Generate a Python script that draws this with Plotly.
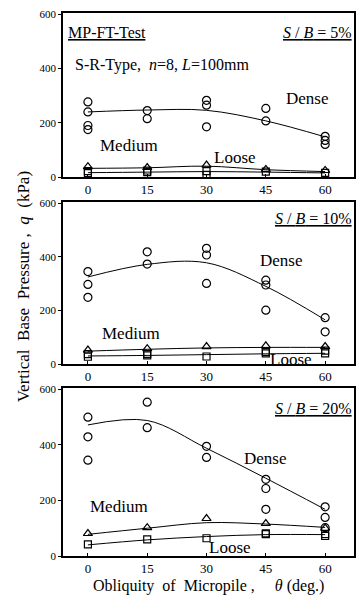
import plotly.graph_objects as go

theta = [0, 15, 30, 45, 60]
x_ticks = [0, 15, 30, 45, 60]
y_ticks = [0, 200, 400, 600]

# ---- S/B = 5% ----
dense5_x = [0, 0, 0, 0, 15, 15, 30, 30, 30, 45, 45, 60, 60, 60]
dense5_y = [277, 240, 190, 175, 245, 215, 283, 265, 185, 253, 207, 150, 135, 120]
dense5_fit = [240, 247, 246, 207, 148]
medium5_y = [38, 35, 44, 28, 24]
medium5_fit = [32, 34, 40, 27, 20]
loose5_x = [0, 0, 15, 15, 30, 30, 45, 60]
loose5_y = [22, 14, 24, 18, 22, 8, 20, 15]
loose5_fit = [16, 18, 20, 18, 15]

# ---- S/B = 10% ----
dense10_x = [0, 0, 0, 15, 15, 30, 30, 30, 45, 45, 45, 60, 60]
dense10_y = [345, 297, 249, 419, 373, 432, 407, 301, 313, 295, 201, 173, 120]
dense10_fit = [325, 372, 378, 290, 165]
medium10_y = [52, 57, 65, 68, 65]
medium10_fit = [48, 55, 60, 62, 62]
loose10_x = [0, 0, 15, 15, 30, 45, 45, 60, 60]
loose10_y = [27, 37, 32, 38, 28, 40, 45, 40, 50]
loose10_fit = [30, 32, 35, 38, 40]

# ---- S/B = 20% ----
dense20_x = [0, 0, 0, 15, 15, 30, 30, 45, 45, 45, 60, 60, 60]
dense20_y = [500, 429, 345, 554, 462, 395, 355, 276, 243, 168, 177, 139, 102]
dense20_fit = [472, 488, 388, 280, 168]
medium20_y = [81, 102, 135, 117, 100]
medium20_fit = [78, 100, 120, 115, 103]
loose20_x = [0, 15, 30, 45, 45, 60, 60]
loose20_y = [42, 60, 64, 79, 82, 72, 79]
loose20_fit = [40, 58, 70, 77, 77]

panels = [
    (dense5_x, dense5_y, dense5_fit, medium5_y, medium5_fit, loose5_x, loose5_y, loose5_fit),
    (dense10_x, dense10_y, dense10_fit, medium10_y, medium10_fit, loose10_x, loose10_y, loose10_fit),
    (dense20_x, dense20_y, dense20_fit, medium20_y, medium20_fit, loose20_x, loose20_y, loose20_fit),
]

FONT = "Liberation Serif"
W, H = 356, 599
ML, MT, MB = 63, 13, 43
plot_h = H - MT - MB
# pixel tops/bottoms of each panel
px = [(13, 177), (202, 364), (388, 556)]
domains = [((556 - b) / plot_h, (556 - t) / plot_h) for t, b in px]

fig = go.Figure()
line_style = dict(color="black", width=1)
for i, (dx, dy, dfit, my, mfit, lx, ly, lfit) in enumerate(panels):
    xa = "x" if i == 0 else f"x{i+1}"
    ya = "y" if i == 0 else f"y{i+1}"
    common = dict(xaxis=xa, yaxis=ya, showlegend=False, hoverinfo="skip")
    fig.add_trace(go.Scatter(x=theta, y=dfit, mode="lines", line=dict(shape="spline", smoothing=1.0, **line_style), **common))
    fig.add_trace(go.Scatter(x=theta, y=mfit, mode="lines", line=dict(shape="spline", smoothing=1.0, **line_style), **common))
    fig.add_trace(go.Scatter(x=theta, y=lfit, mode="lines", line=dict(shape="spline", smoothing=1.0, **line_style), **common))
    fig.add_trace(go.Scatter(x=dx, y=dy, mode="markers",
                             marker=dict(symbol="circle-open", size=8, color="black", line=dict(width=1.2)), **common))
    fig.add_trace(go.Scatter(x=theta, y=my, mode="markers",
                             marker=dict(symbol="triangle-up-open", size=8, color="black", line=dict(width=1.2)), **common))
    fig.add_trace(go.Scatter(x=lx, y=ly, mode="markers",
                             marker=dict(symbol="square-open", size=7, color="black", line=dict(width=1.2)), **common))

axis_common = dict(showgrid=False, zeroline=False, showline=True, linecolor="black", linewidth=1.5,
                   mirror=True, tickcolor="black")
layout = dict(
    width=W, height=H,
    margin=dict(l=ML, r=0, t=MT, b=MB),
    paper_bgcolor="white", plot_bgcolor="white",
    font=dict(family=FONT, color="black"),
)
for i in range(3):
    xk = "xaxis" if i == 0 else f"xaxis{i+1}"
    yk = "yaxis" if i == 0 else f"yaxis{i+1}"
    layout[xk] = dict(domain=[0, 1], range=[-6.3, 67.3], tickvals=x_ticks, anchor="y" if i == 0 else f"y{i+1}",
                      ticks="inside", ticklen=3, ticklabelstandoff=0,
                      tickfont=dict(size=13, family=FONT), **axis_common)
    layout[yk] = dict(domain=list(domains[i]), range=[0, 605], tickvals=y_ticks, anchor="x" if i == 0 else f"x{i+1}",
                      ticks="outside", ticklen=3,
                      tickfont=dict(size=11, family=FONT), **axis_common)
fig.update_layout(**layout)

def ann(text, xref, yref, x, y, size=17, xanchor="left", yanchor="middle", **kw):
    fig.add_annotation(text=text, xref=xref, yref=yref, x=x, y=y, showarrow=False,
                       font=dict(size=size, family=FONT, color="black"), xanchor=xanchor, yanchor=yanchor, **kw)

# Panel 1
ann("<u>MP-FT-Test</u>", "x domain", "y domain", 0.01, 0.88, size=16)
ann("<u><i>S</i> / <i>B</i> = 5%</u>", "x domain", "y domain", 1.0, 0.88, size=16, xanchor="right")
ann("S-R-Type,  <i>n</i>=8, <i>L</i>=100mm", "x domain", "y domain", 0.035, 0.68, size=16)
ann("Dense", "x", "y", 49.5, 290)
ann("Medium", "x", "y", 2.5, 115)
ann("Loose", "x", "y", 31.5, 72)
# Panel 2
ann("<u><i>S</i> / <i>B</i> = 10%</u>", "x2 domain", "y2 domain", 1.0, 0.9, size=16, xanchor="right")
ann("Dense", "x2", "y2", 43, 385)
ann("Medium", "x2", "y2", 3, 115)
ann("Loose", "x2", "y2", 45.5, 18)
# Panel 3
ann("<u><i>S</i> / <i>B</i> = 20%</u>", "x3 domain", "y3 domain", 1.0, 0.88, size=16, xanchor="right")
ann("Dense", "x3", "y3", 39, 350)
ann("Medium", "x3", "y3", 0, 180)
ann("Loose", "x3", "y3", 30, 30)

# Axis titles
fig.add_annotation(text="Vertical  Base  Pressure ,  <i>q</i>  (kPa)", xref="paper", yref="paper",
                   x=-(ML - 23) / (W - ML), y=(556 - 287) / plot_h, textangle=-90, showarrow=False,
                   font=dict(size=17, family=FONT, color="black"), xanchor="center", yanchor="middle")
fig.add_annotation(text="Obliquity  of  Micropile ,     <i>θ</i> (deg.)", xref="paper", yref="paper",
                   x=(209 - ML) / (W - ML), y=-(586 - 556) / plot_h, showarrow=False,
                   font=dict(size=16, family=FONT, color="black"), xanchor="center", yanchor="middle")

fig.write_html("out.html")
